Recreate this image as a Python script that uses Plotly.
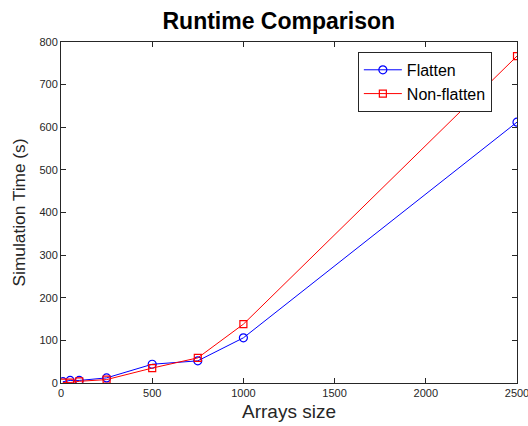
import plotly.graph_objects as go

sizes = [10, 50, 100, 250, 500, 750, 1000, 2500]
flatten = [3, 6, 6, 12, 44, 52, 106, 612]
non_flatten = [1, 1, 4, 8, 35, 59, 138, 767]

FONT = "Liberation Sans, Arial"

fig = go.Figure()
fig.add_trace(go.Scatter(x=sizes, y=flatten, name="Flatten", mode="lines+markers",
                         line=dict(color="#0000ff", width=1),
                         marker=dict(symbol="circle-open", size=8, color="#0000ff", line=dict(width=1.2))))
fig.add_trace(go.Scatter(x=sizes, y=non_flatten, name="Non-flatten", mode="lines+markers",
                         line=dict(color="#ff0000", width=1),
                         marker=dict(symbol="square-open", size=7, color="#ff0000", line=dict(width=1.2))))

axis_common = dict(showgrid=False, zeroline=False, showline=True, mirror="ticks",
                   linecolor="#262626", linewidth=1, ticks="inside", ticklen=5,
                   tickcolor="#262626", automargin=False, ticklabeloverflow="allow",
                   tickfont=dict(family=FONT, size=11, color="#262626"))

fig.update_layout(
    width=528, height=426,
    margin=dict(l=61, r=11, t=42, b=43),
    paper_bgcolor="white", plot_bgcolor="white",
    title=dict(text="<b>Runtime Comparison</b>", x=0.528, xanchor="center", y=0.95, yanchor="middle",
               font=dict(family=FONT, size=23, color="black")),
    xaxis=dict(range=[0, 2500], tickvals=[0, 500, 1000, 1500, 2000, 2500],
               title=dict(text="Arrays size", font=dict(family=FONT, size=19, color="#262626"), standoff=6),
               **axis_common),
    yaxis=dict(range=[0, 800], tickvals=[0, 100, 200, 300, 400, 500, 600, 700, 800],
               title=dict(text="Simulation Time (s)", font=dict(family=FONT, size=17.3, color="#262626"), standoff=9),
               **axis_common),
    legend=dict(x=0.651, y=0.971, xanchor="left", yanchor="top",
                bordercolor="#262626", borderwidth=1, bgcolor="white",
                font=dict(family=FONT, size=16, color="black"),
                tracegroupgap=0, itemwidth=38),
    showlegend=True,
)

fig.write_html("out.html", config={"displayModeBar": False},
               post_script="document.body.style.margin='0';document.body.style.overflow='hidden';")
